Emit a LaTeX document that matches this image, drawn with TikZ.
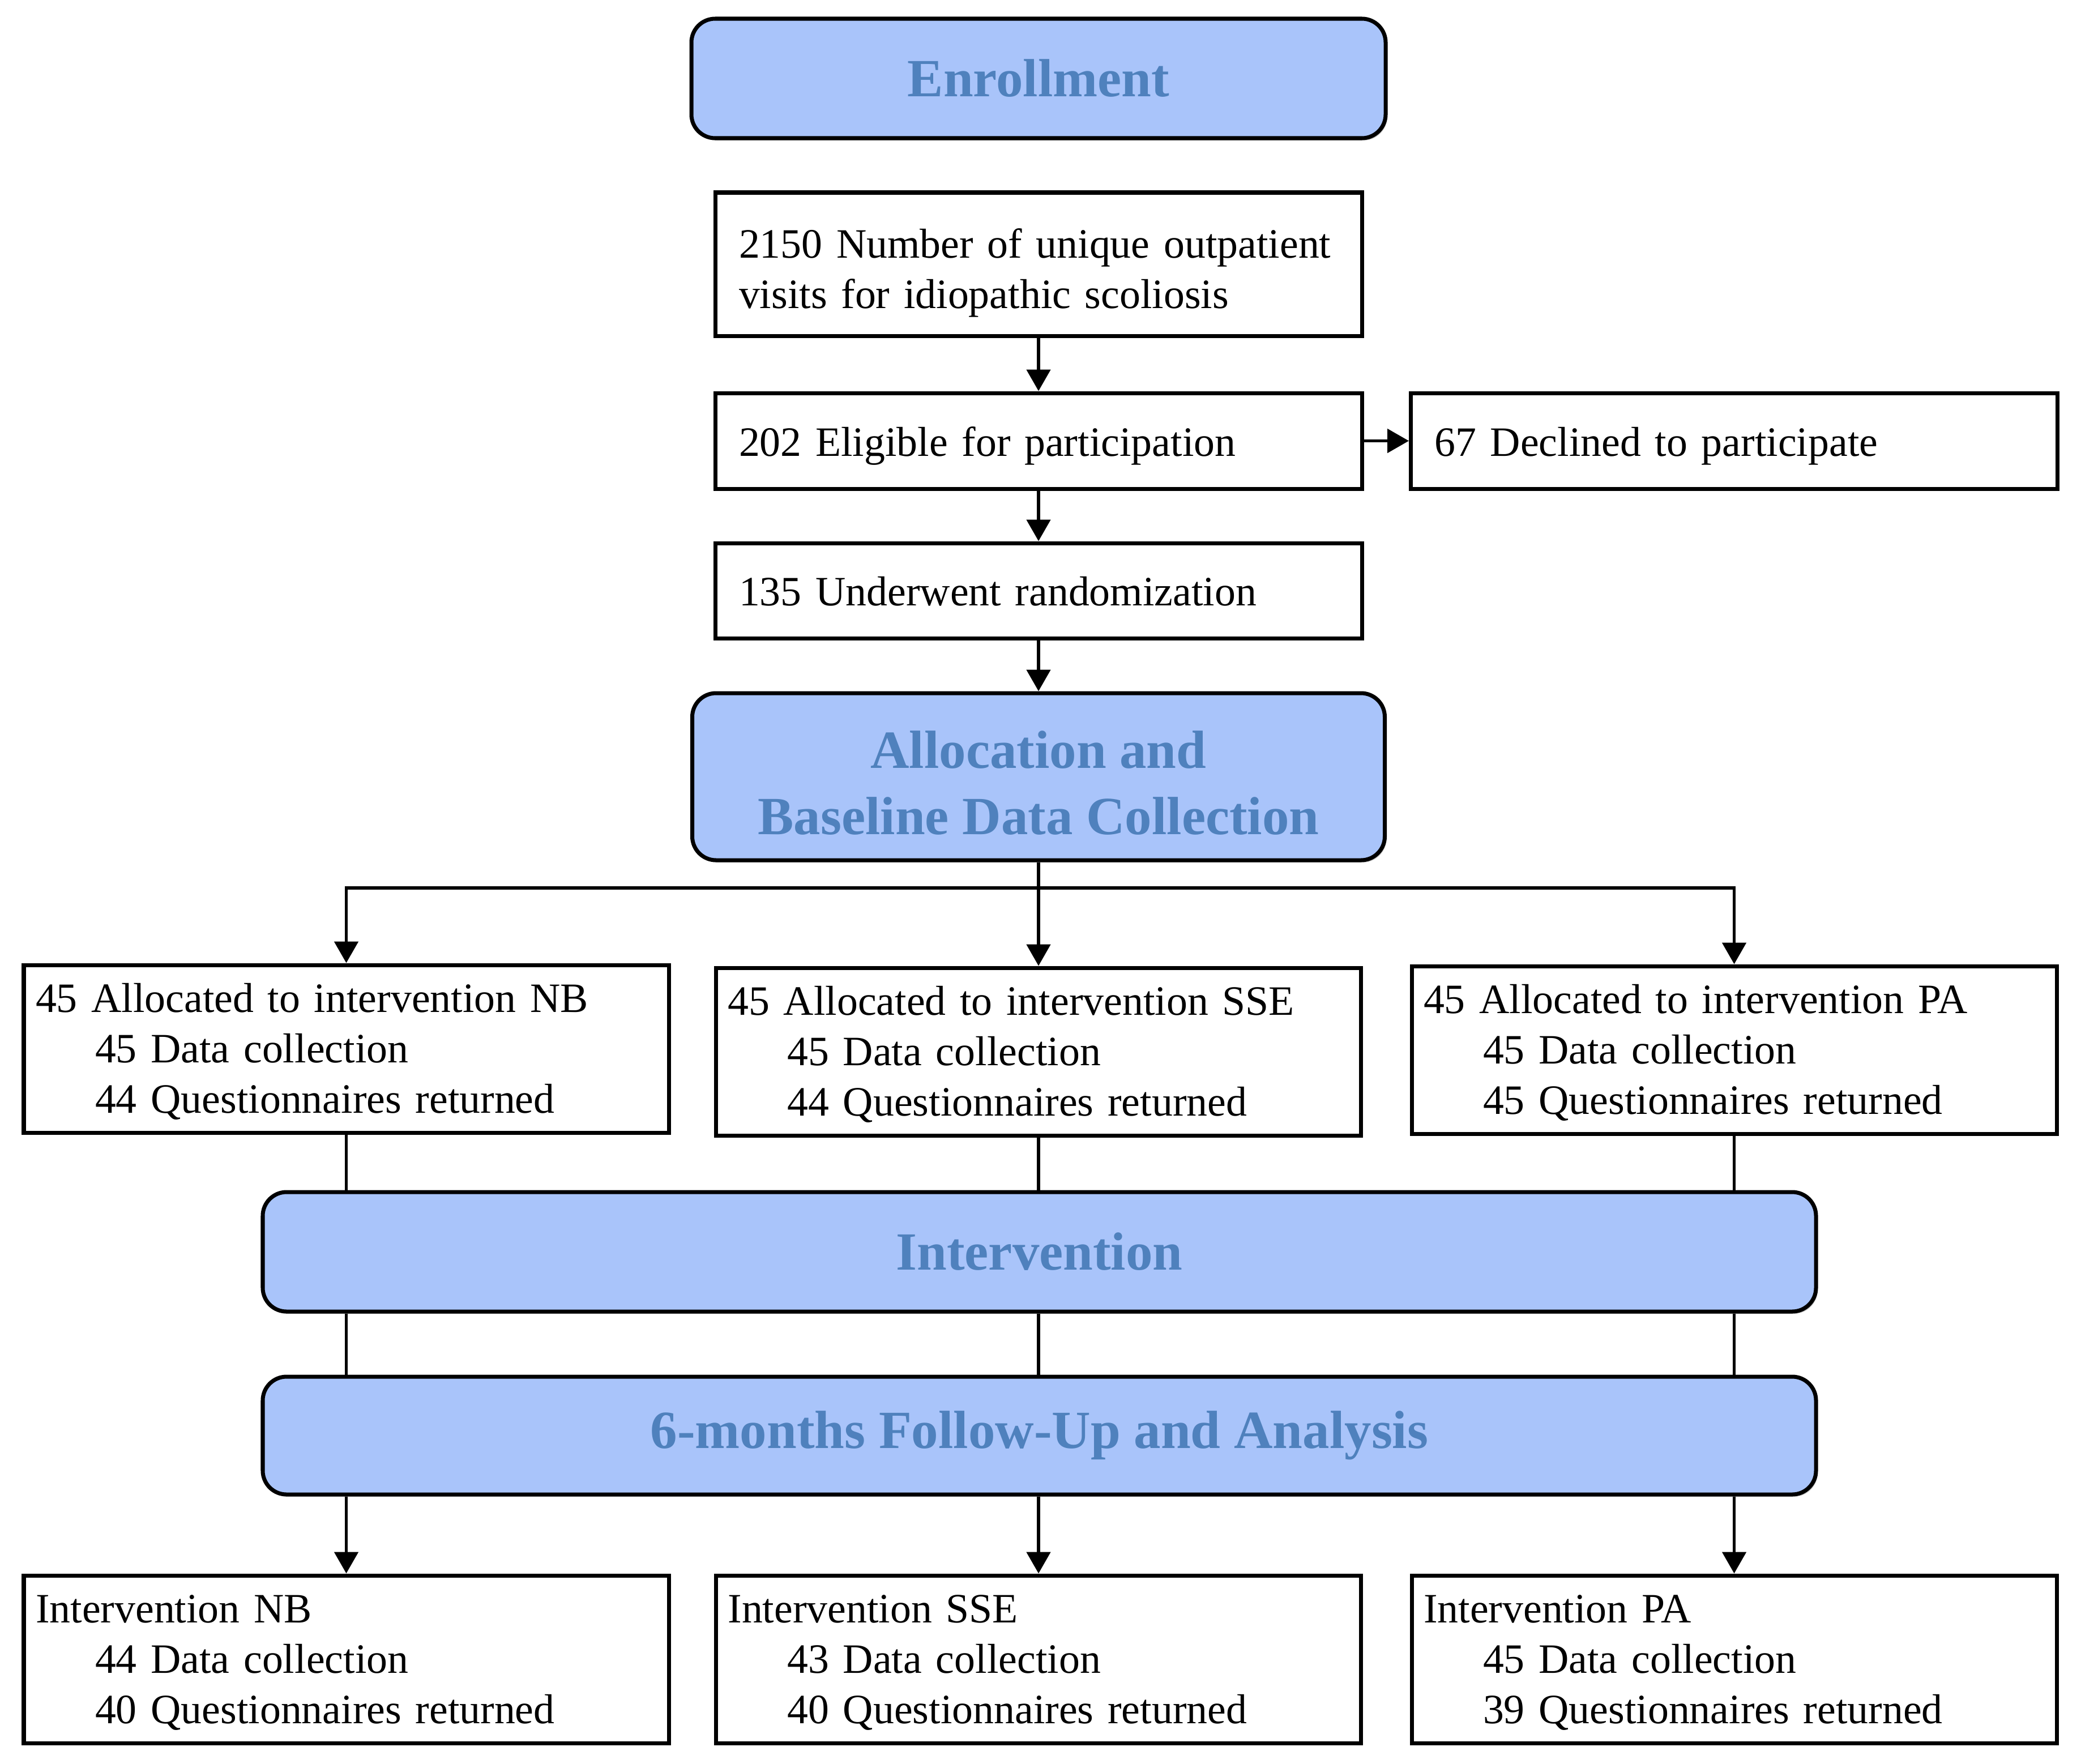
\documentclass[tikz,border=0pt]{standalone}
\usepackage{fontspec}
\setmainfont{Liberation Serif}
\usetikzlibrary{arrows.meta,shadows}
\definecolor{hdrfill}{RGB}{169,196,250}
\definecolor{hdrtext}{RGB}{79,129,189}
\newcommand{\topgap}[1]{\rule{0pt}{#1}}
\begin{document}
\begin{tikzpicture}[
  x=1cm,y=1cm,
  hdr/.style={draw=black, line width=2pt, fill=hdrfill, rounded corners=0.42cm,
    text=hdrtext, font=\fontsize{27}{33.5}\selectfont\bfseries, align=center,
    inner sep=0pt, drop shadow={shadow xshift=0.03cm, shadow yshift=-0.04cm, fill=black!35, opacity=0.6}},
  topbox/.style={draw=black, line width=2pt, fill=white, align=left,
    font=\fontsize{21}{25.3}\selectfont, inner xsep=0.42cm, inner ysep=0pt,
    text width=10.58cm, minimum width=11.42cm},
  lowbox/.style={draw=black, line width=2pt, fill=white, align=left,
    font=\fontsize{21}{25.3}\selectfont, inner xsep=0.21cm, inner ysep=0pt,
    text width=10.97cm, minimum width=11.39cm, minimum height=2.96cm},
  arr/.style={line width=1.5pt, -{Triangle[width=0.42cm,length=0.38cm]}},
  conn/.style={line width=1.5pt}
]
\useasboundingbox (0,0) rectangle (36.75,-31.14);

% headers
\node[hdr, minimum width=12.26cm, minimum height=2.11cm] (enroll) at (18.34,-1.385) {Enrollment};
\node[hdr, minimum width=12.23cm, minimum height=2.95cm] (alloc) at (18.34,-13.715) {\topgap{25pt}Allocation and\\Baseline Data Collection};
\node[hdr, minimum width=27.43cm, minimum height=2.11cm] (interv) at (18.355,-22.105) {Intervention};
\node[hdr, minimum width=27.43cm, minimum height=2.08cm] (follow) at (18.355,-25.35) {6-months Follow-Up and Analysis};

% enrollment boxes
\node[topbox, minimum height=2.53cm] (visits) at (18.34,-4.665) {\topgap{23.5pt}2150 Number of unique outpatient\\visits for idiopathic scoliosis};
\node[topbox, minimum height=1.69cm] (elig) at (18.34,-7.785) {\topgap{20pt}202 Eligible for participation};
\node[topbox, minimum height=1.69cm] (decl) at (30.625,-7.785) {\topgap{20pt}67 Declined to participate};
\node[topbox, minimum height=1.68cm] (rand) at (18.34,-10.43) {\topgap{15.5pt}135 Underwent randomization};

% allocation boxes
\node[lowbox] (nb) at (6.115,-18.52) {\topgap{17.3pt}45 Allocated to intervention NB\\\hspace*{1.05cm}45 Data collection\\\hspace*{1.05cm}44 Questionnaires returned};
\node[lowbox] (sse) at (18.34,-18.57) {\topgap{17.3pt}45 Allocated to intervention SSE\\\hspace*{1.05cm}45 Data collection\\\hspace*{1.05cm}44 Questionnaires returned};
\node[lowbox] (pa) at (30.625,-18.54) {\topgap{17.3pt}45 Allocated to intervention PA\\\hspace*{1.05cm}45 Data collection\\\hspace*{1.05cm}45 Questionnaires returned};

% follow-up boxes
\node[lowbox] (nbf) at (6.115,-29.30) {\topgap{17.3pt}Intervention NB\\\hspace*{1.05cm}44 Data collection\\\hspace*{1.05cm}40 Questionnaires returned};
\node[lowbox] (ssef) at (18.34,-29.30) {\topgap{17.3pt}Intervention SSE\\\hspace*{1.05cm}43 Data collection\\\hspace*{1.05cm}40 Questionnaires returned};
\node[lowbox] (paf) at (30.625,-29.30) {\topgap{17.3pt}Intervention PA\\\hspace*{1.05cm}45 Data collection\\\hspace*{1.05cm}39 Questionnaires returned};

% connectors
\draw[arr] (visits) -- (elig);
\draw[arr] (elig) -- (rand);
\draw[arr] (elig) -- (decl);
\draw[arr] (rand) -- (alloc);
\coordinate (br) at (18.34,-15.68);
\draw[arr] (alloc.south) -- (sse.north);
\draw[arr] (alloc.south) -- (br) -| (nb.north);
\draw[arr] (alloc.south) -- (br) -| (pa.north);

\draw[conn] (nb.south) -- (nb.south |- interv.north);
\draw[conn] (sse.south) -- (sse.south |- interv.north);
\draw[conn] (pa.south) -- (pa.south |- interv.north);
\draw[conn] (nb.south |- interv.south) -- (nb.south |- follow.north);
\draw[conn] (sse.south |- interv.south) -- (sse.south |- follow.north);
\draw[conn] (pa.south |- interv.south) -- (pa.south |- follow.north);
\draw[arr] (nbf.north |- follow.south) -- (nbf.north);
\draw[arr] (ssef.north |- follow.south) -- (ssef.north);
\draw[arr] (paf.north |- follow.south) -- (paf.north);
\end{tikzpicture}
\end{document}
